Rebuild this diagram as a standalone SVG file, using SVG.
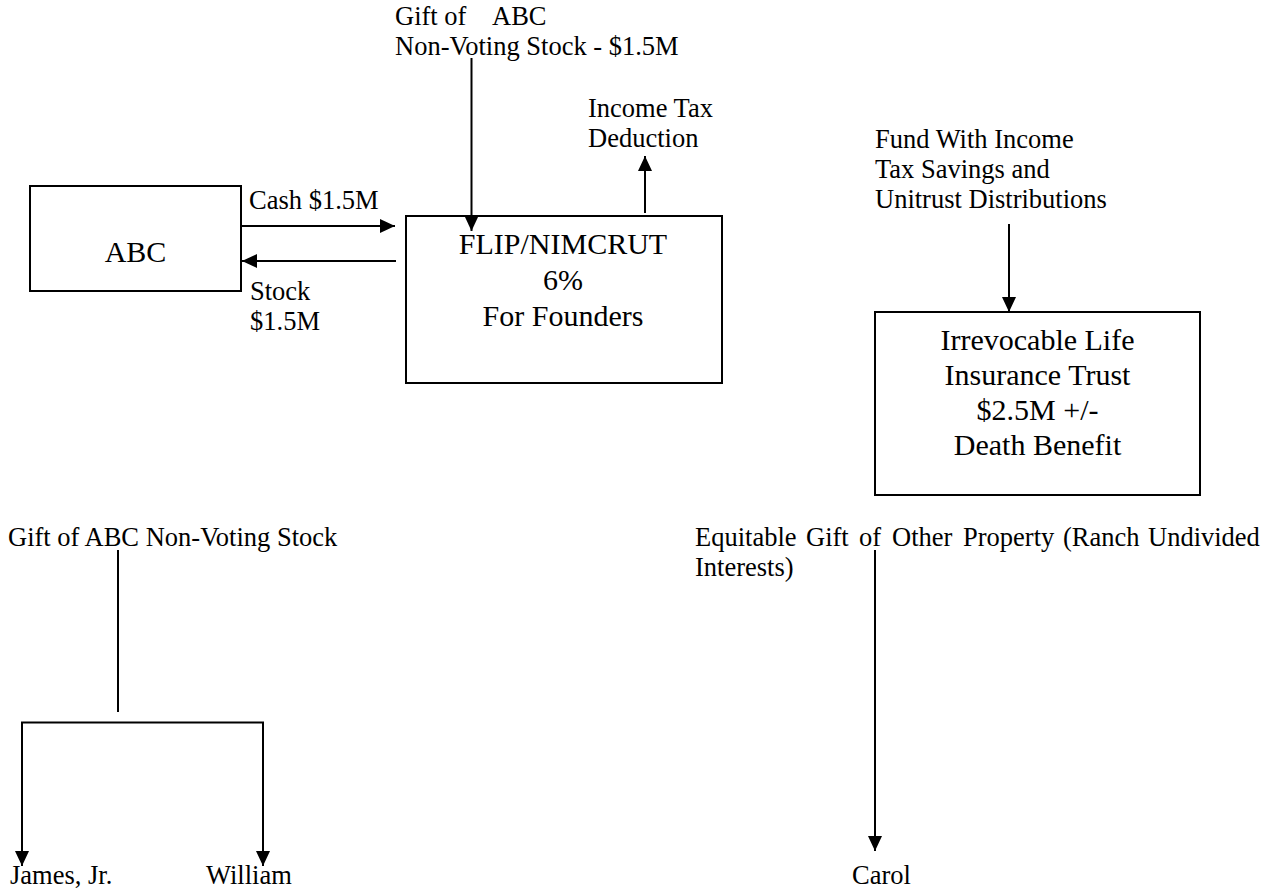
<svg xmlns="http://www.w3.org/2000/svg" width="1273" height="892" viewBox="0 0 1273 892">
<style>
  text { font-family: "Liberation Serif", "Times New Roman", serif; fill: #000; }
  .lbl { font-size: 26.5px; }
  .nd { font-size: 30px; text-anchor: middle; }
  .box { fill: #fff; stroke: #000; stroke-width: 2; }
  .ln { fill: none; stroke: #000; stroke-width: 2; }
  .ar { fill: none; stroke: #000; stroke-width: 2; marker-end: url(#ah); }
</style>
<defs>
  <marker id="ah" markerUnits="userSpaceOnUse" markerWidth="16" markerHeight="14" refX="15" refY="7" orient="auto">
    <path d="M0,0 L15,7 L0,14 Z" fill="#000"/>
  </marker>
</defs>
<rect width="1273" height="892" fill="#fff"/>

<g id="node-abc">
  <rect class="box" x="30" y="186" width="211" height="105"/>
  <text class="nd" x="135.5" y="262">ABC</text>
</g>
<g id="node-flip">
  <rect class="box" x="406" y="216" width="316" height="167"/>
  <text class="nd" x="563" y="254">FLIP/NIMCRUT</text>
  <text class="nd" x="563" y="290">6%</text>
  <text class="nd" x="563" y="326">For Founders</text>
</g>
<g id="node-ilit">
  <rect class="box" x="875" y="312" width="325" height="183"/>
  <text class="nd" x="1037.5" y="350">Irrevocable Life</text>
  <text class="nd" x="1037.5" y="385">Insurance Trust</text>
  <text class="nd" x="1037.5" y="420">$2.5M +/-</text>
  <text class="nd" x="1037.5" y="455">Death Benefit</text>
</g>

<g id="labels">
  <text class="lbl" x="395" y="25">Gift of<tspan x="492">ABC</tspan></text>
  <text class="lbl" x="395" y="55">Non-Voting Stock - $1.5M</text>
  <text class="lbl" x="588" y="117">Income Tax</text>
  <text class="lbl" x="588" y="147">Deduction</text>
  <text class="lbl" x="249" y="209">Cash $1.5M</text>
  <text class="lbl" x="250" y="300">Stock</text>
  <text class="lbl" x="250" y="330">$1.5M</text>
  <text class="lbl" x="875" y="148">Fund With Income</text>
  <text class="lbl" x="875" y="178">Tax Savings and</text>
  <text class="lbl" x="875" y="208">Unitrust Distributions</text>
  <text class="lbl" x="8" y="546">Gift of ABC Non-Voting Stock</text>
  <text class="lbl" y="546"><tspan x="695">Equitable</tspan><tspan x="806">Gift</tspan><tspan x="859">of</tspan><tspan x="892">Other</tspan><tspan x="963">Property</tspan><tspan x="1063">(Ranch</tspan><tspan x="1148">Undivided</tspan></text>
  <text class="lbl" x="695" y="576">Interests)</text>
</g>

<g id="node-james"><text class="lbl" x="10" y="884">James, Jr.</text></g>
<g id="node-william"><text class="lbl" x="206" y="884">William</text></g>
<g id="node-carol"><text class="lbl" x="852" y="884">Carol</text></g>

<g id="connectors">
  <line class="ar" x1="471.5" y1="58" x2="471.5" y2="231"/>
  <line class="ar" x1="645" y1="213" x2="645" y2="156"/>
  <line class="ar" x1="241" y1="226" x2="395" y2="226"/>
  <line class="ar" x1="396" y1="261" x2="242" y2="261"/>
  <line class="ar" x1="1009" y1="224" x2="1009" y2="312"/>
  <line class="ln" x1="118" y1="550" x2="118" y2="712"/>
  <polyline class="ln" points="22,866 22,722.5 263,722.5 263,866"/>
  <line class="ar" x1="22" y1="800" x2="22" y2="866"/>
  <line class="ar" x1="263" y1="800" x2="263" y2="866"/>
  <line class="ar" x1="875" y1="550" x2="875" y2="851"/>
</g>
</svg>
